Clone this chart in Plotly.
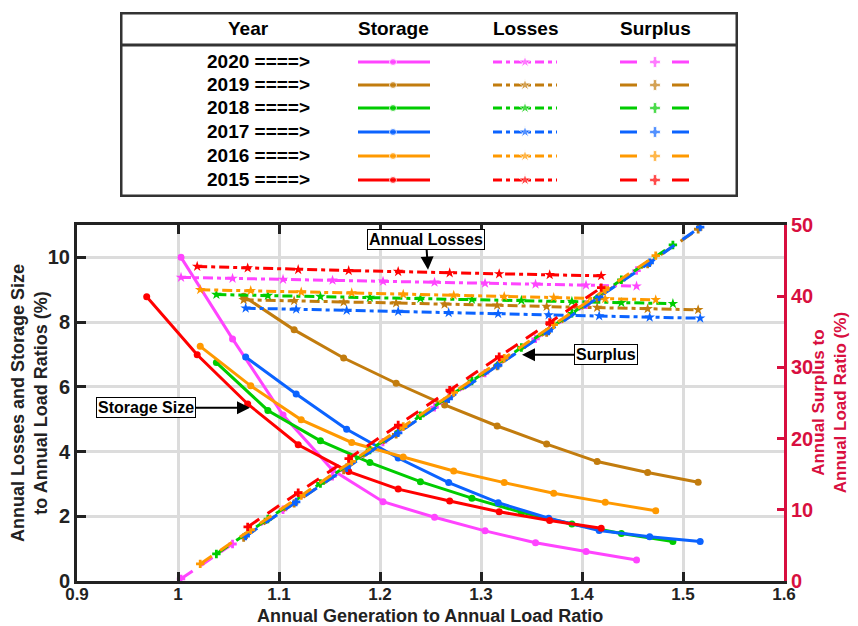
import plotly.graph_objects as go

# ---------------- data ----------------
years = ["2020", "2019", "2018", "2017", "2016", "2015"]
colors = ["#ff44ff", "#c27c0e", "#00cc00", "#0b63ff", "#ff9900", "#ff0000"]

gen_2020 = [1.003, 1.054, 1.104, 1.153, 1.203, 1.254, 1.304, 1.354, 1.404, 1.454]
gen_2019 = [1.065, 1.115, 1.164, 1.216, 1.264, 1.316, 1.365, 1.415, 1.465, 1.515]
gen_2018 = [1.038, 1.089, 1.141, 1.190, 1.240, 1.291, 1.340, 1.390, 1.439, 1.490]
gen_2017 = [1.067, 1.117, 1.167, 1.218, 1.268, 1.317, 1.367, 1.417, 1.467, 1.517]
gen_2016 = [1.022, 1.072, 1.122, 1.172, 1.223, 1.273, 1.323, 1.372, 1.423, 1.473]
gen_2015 = [0.969, 1.019, 1.069, 1.119, 1.169, 1.218, 1.269, 1.318, 1.368, 1.419]

storage_2020 = [10.0, 7.48, 5.13, 3.43, 2.45, 1.97, 1.55, 1.18, 0.91, 0.65]
storage_2019 = [8.80, 7.76, 6.89, 6.11, 5.44, 4.79, 4.23, 3.69, 3.35, 3.05]
storage_2018 = [6.75, 5.27, 4.33, 3.66, 3.07, 2.56, 2.12, 1.76, 1.47, 1.22]
storage_2017 = [6.92, 5.78, 4.69, 3.80, 3.04, 2.42, 1.94, 1.56, 1.37, 1.22]
storage_2016 = [7.25, 6.03, 4.98, 4.28, 3.83, 3.40, 3.04, 2.71, 2.43, 2.17]
storage_2015 = [8.78, 6.99, 5.47, 4.21, 3.38, 2.84, 2.47, 2.14, 1.87, 1.63]

losses_2020 = [9.38, 9.35, 9.32, 9.29, 9.26, 9.23, 9.20, 9.17, 9.14, 9.11]
losses_2019 = [8.69, 8.66, 8.62, 8.59, 8.55, 8.52, 8.48, 8.45, 8.41, 8.38]
losses_2018 = [8.85, 8.82, 8.79, 8.76, 8.73, 8.70, 8.67, 8.64, 8.60, 8.57]
losses_2017 = [8.43, 8.40, 8.36, 8.33, 8.29, 8.26, 8.22, 8.19, 8.15, 8.12]
losses_2016 = [9.00, 8.97, 8.93, 8.90, 8.86, 8.83, 8.79, 8.76, 8.72, 8.69]
losses_2015 = [None, 9.72, 9.67, 9.62, 9.59, 9.56, 9.52, 9.49, 9.46, 9.43]

surplus_2020 = [0.3, 5.2, 10.0, 14.7, 19.5, 24.4, 29.2, 34.0, 38.8, 43.6]
surplus_2019 = [6.1, 10.9, 15.6, 20.6, 25.2, 30.2, 34.9, 39.7, 44.5, 49.4]
surplus_2018 = [3.8, 8.7, 13.7, 18.4, 23.2, 28.1, 32.8, 37.6, 42.3, 47.2]
surplus_2017 = [6.3, 11.1, 15.9, 20.8, 25.6, 30.3, 35.1, 39.9, 44.7, 49.7]
surplus_2016 = [2.4, 7.2, 12.0, 16.8, 21.7, 26.5, 31.3, 36.0, 40.9, 45.7]
surplus_2015 = [None, None, 7.6, 12.4, 17.2, 21.9, 26.8, 31.5, 36.3, 41.2]

gens = [gen_2020, gen_2019, gen_2018, gen_2017, gen_2016, gen_2015]
storages = [storage_2020, storage_2019, storage_2018, storage_2017, storage_2016, storage_2015]
losses = [losses_2020, losses_2019, losses_2018, losses_2017, losses_2016, losses_2015]
surpluses = [surplus_2020, surplus_2019, surplus_2018, surplus_2017, surplus_2016, surplus_2015]

x_ticks = [0.9, 1.0, 1.1, 1.2, 1.3, 1.4, 1.5, 1.6]
x_tick_labels = ["0.9", "1", "1.1", "1.2", "1.3", "1.4", "1.5", "1.6"]
y_ticks = [0, 2, 4, 6, 8, 10]
y2_ticks = [0, 10, 20, 30, 40, 50]

legend_headers = ["Year", "Storage", "Losses", "Surplus"]

# ---------------- styling ----------------
FONT = "Liberation Sans, Arial, sans-serif"
CRIMSON = "#d80f3f"
DARK = "#222222"
LOSS_DASH = "10px,4px,4px,4px"
SURP_DASH = "14px,10px"

fig = go.Figure()

for yr, c, g, s in zip(years, colors, gens, storages):
    fig.add_trace(go.Scatter(x=g, y=s, mode="lines+markers", xaxis="x", yaxis="y",
                             line=dict(color=c, width=3),
                             marker=dict(symbol="circle", size=7, color=c),
                             showlegend=False, name=yr + " storage"))
for yr, c, g, l in zip(years, colors, gens, losses):
    fig.add_trace(go.Scatter(x=g, y=l, mode="lines+markers", xaxis="x", yaxis="y",
                             line=dict(color=c, width=3, dash=LOSS_DASH),
                             marker=dict(symbol="star", size=8, color=c),
                             showlegend=False, name=yr + " losses"))
for yr, c, g, sp in zip(years, colors, gens, surpluses):
    fig.add_trace(go.Scatter(x=g, y=sp, mode="lines+markers", xaxis="x", yaxis="y2",
                             line=dict(color=c, width=3, dash=SURP_DASH),
                             marker=dict(symbol="cross", size=7, color=c),
                             showlegend=False, name=yr + " surplus"))

# ---------------- custom legend table ----------------
row_y = [62, 85, 108, 132, 156, 180]
for yr, c, ry in zip(years, colors, row_y):
    fig.add_trace(go.Scatter(x=[358, 393, 430], y=[ry, ry, ry], mode="lines+markers",
                             xaxis="x3", yaxis="y3", line=dict(color=c, width=3),
                             marker=dict(symbol="circle", size=[0, 7, 0], color=c),
                             showlegend=False, hoverinfo="skip"))
    fig.add_trace(go.Scatter(x=[493, 525, 557], y=[ry, ry, ry], mode="lines+markers",
                             xaxis="x3", yaxis="y3", line=dict(color=c, width=3, dash="9px,4px,4px,4px"),
                             marker=dict(symbol="star", size=[0, 9, 0], color=c),
                             showlegend=False, hoverinfo="skip"))
    fig.add_trace(go.Scatter(x=[620, 655, 690], y=[ry, ry, ry], mode="lines+markers",
                             xaxis="x3", yaxis="y3", line=dict(color=c, width=3, dash="17px,35px"),
                             marker=dict(symbol="cross", size=[0, 9, 0], color=c),
                             showlegend=False, hoverinfo="skip"))

annotations = []
for h, hx in zip(legend_headers, [248, 393, 525, 655]):
    annotations.append(dict(x=hx, y=29, xref="x3", yref="y3", text=h, showarrow=False,
                            font=dict(family=FONT, size=19, color="black", weight="bold")))
for yr, ry in zip(years, row_y):
    annotations.append(dict(x=258, y=ry, xref="x3", yref="y3", text=yr + " ====>", showarrow=False,
                            font=dict(family=FONT, size=19, color="black", weight="bold")))

shapes = [
    dict(type="rect", xref="x3", yref="y3", x0=121, x1=737, y0=13, y1=196,
         line=dict(color="#333333", width=3), fillcolor="rgba(0,0,0,0)"),
    dict(type="line", xref="x3", yref="y3", x0=121, x1=737, y0=45, y1=45,
         line=dict(color="#333333", width=3)),
]

box_font = dict(family=FONT, size=16, color="black", weight="bold")
annotations += [
    dict(x=1.2475, y=9.62, xref="x", yref="y", text="Annual Losses", showarrow=True,
         ax=-2, ay=-30, arrowhead=2, arrowsize=1.3, arrowwidth=2, arrowcolor="black",
         bordercolor="black", borderwidth=1, borderpad=1, bgcolor="white", font=box_font),
    dict(x=1.3406, y=6.99, xref="x", yref="y", text="Surplus", showarrow=True,
         ax=84, ay=0, arrowhead=2, arrowsize=1.3, arrowwidth=2, arrowcolor="black",
         bordercolor="black", borderwidth=1, borderpad=1, bgcolor="white", font=box_font),
    dict(x=1.0713, y=5.35, xref="x", yref="y", text="Storage Size", showarrow=True,
         ax=-104, ay=0, arrowhead=2, arrowsize=1.3, arrowwidth=2, arrowcolor="black",
         bordercolor="black", borderwidth=1, borderpad=1, bgcolor="white", font=box_font),
]

annotations += [
    dict(xref="paper", yref="paper", x=-0.0679, y=0.3117, xanchor="center", yanchor="middle",
         text="Annual Losses and Storage Size<br>to Annual Load Ratios (%)", textangle=-90,
         showarrow=False, font=dict(family=FONT, size=18, color=DARK, weight="bold")),
    dict(xref="paper", yref="paper", x=1.0640, y=0.3117, xanchor="center", yanchor="middle",
         text="Annual Surplus to<br>Annual Load Ratio (%)", textangle=-90,
         showarrow=False, font=dict(family=FONT, size=17, color=CRIMSON, weight="bold")),
    dict(xref="paper", yref="paper", x=0.4993, y=-0.0605, xanchor="center", yanchor="middle",
         text="Annual Generation to Annual Load Ratio", showarrow=False,
         font=dict(family=FONT, size=18, color=DARK, weight="bold")),
]

fig.update_layout(
    width=850, height=618, autosize=False,
    margin=dict(l=69, r=74, t=2, b=45, autoexpand=False),
    paper_bgcolor="white", plot_bgcolor="white",
    showlegend=False,
    xaxis=dict(domain=[0, 1], range=[0.9, 1.6], tickvals=x_ticks, ticktext=x_tick_labels,
               anchor="y", automargin=False, showgrid=True, gridcolor="#dcdcdc", gridwidth=3,
               showline=True, linecolor=DARK, linewidth=3, mirror="ticks",
               ticks="inside", ticklen=9, tickwidth=3, tickcolor=DARK, ticklabelstandoff=-4,
               tickfont=dict(family=FONT, size=17, color=DARK, weight="bold"),
               zeroline=False),
    yaxis=dict(domain=[0, 356 / 571], range=[0, 11], tickvals=y_ticks, anchor="x",
               automargin=False, showgrid=True, gridcolor="#dcdcdc", gridwidth=3,
               showline=True, linecolor=DARK, linewidth=3,
               ticks="inside", ticklen=9, tickwidth=3, tickcolor=DARK,
               tickfont=dict(family=FONT, size=20, color=DARK, weight="bold"),
               zeroline=False),
    yaxis2=dict(overlaying="y", side="right", range=[0, 50], tickvals=y2_ticks, anchor="x",
                automargin=False, showgrid=False, showline=True, linecolor=CRIMSON, linewidth=3,
                ticks="inside", ticklen=7, tickwidth=3, tickcolor=CRIMSON,
                tickfont=dict(family=FONT, size=20, color=CRIMSON, weight="bold"),
                zeroline=False),
    xaxis3=dict(domain=[43 / 707, 661 / 707], range=[120, 738], anchor="y3",
                visible=False, fixedrange=True),
    yaxis3=dict(domain=[384 / 571, 569 / 571], range=[197, 12], anchor="x3",
                visible=False, fixedrange=True),
    annotations=annotations,
    shapes=shapes,
)

fig.write_html("out.html")
